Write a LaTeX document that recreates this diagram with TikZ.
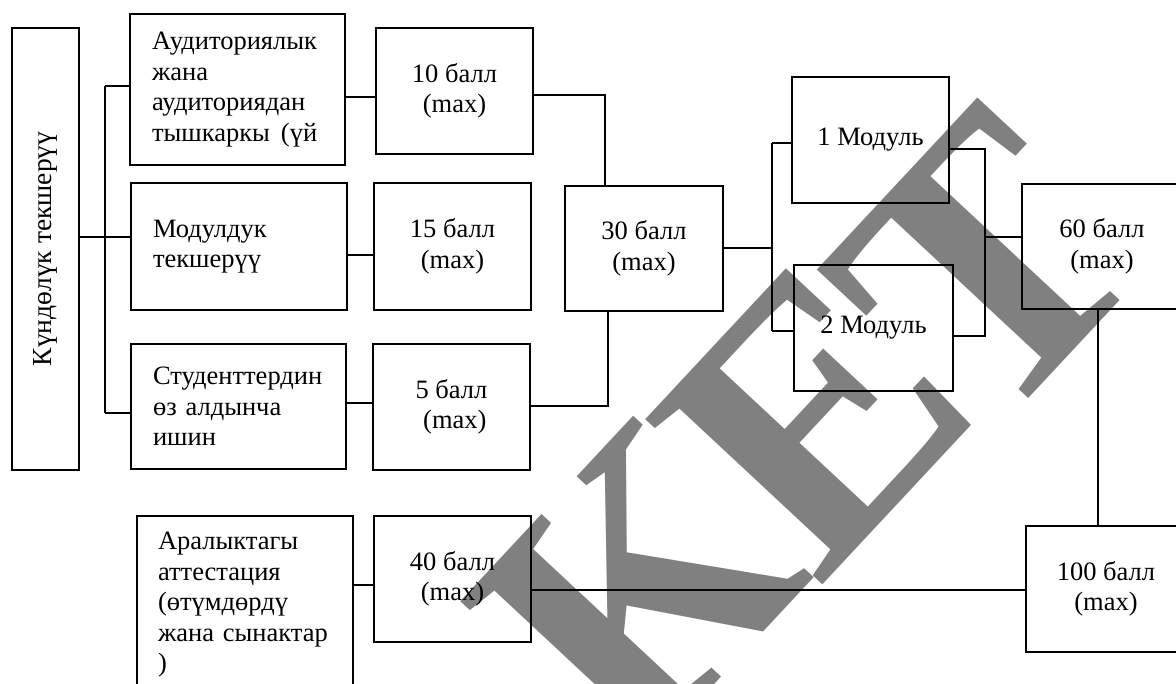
\documentclass[tikz,border=0pt]{standalone}
\usepackage{fontspec}
\setmainfont{Liberation Serif}
\begin{document}
\begin{tikzpicture}[x=1pt,y=-1pt,
  box/.style={draw=black, line width=2.6pt, inner sep=0pt, font=\fontsize{26.5}{30.5}\selectfont},
  lbox/.style={box, align=left, inner xsep=22pt},
  cbox/.style={box, align=center},
  link/.style={line width=1.7pt},
  wm/.style={text=black!50, font=\fontsize{370}{370}\selectfont\bfseries, inner sep=0pt, anchor=base west, rotate=47}]
\useasboundingbox (0,0) rectangle (1176,684);
% watermark
\node[wm] (wK) at (633,772) {К};
\node[wm] (wE) at (818,590) {Е};
\node[wm] (wT) at (990,440) {Т};
% boxes
\node[box, rotate=90, minimum width=442pt, minimum height=67pt, font=\fontsize{27.5}{30}\selectfont] (L) at (45.5,249) {Күндөлүк текшерүү};
\node[lbox, text width=171pt, minimum height=151pt] (A) at (237.5,89.5) {Аудиториялык\\жана\\аудиториядан\\тышкаркы\hspace{11pt}(үй};
\node[lbox, text width=172pt, minimum height=127pt] (B) at (239,246.5) {Модулдук\\текшерүү};
\node[lbox, text width=171pt, minimum height=125pt] (C) at (238.5,406.5) {Студенттердин\\өз алдынча\\ишин};
\node[lbox, inner xsep=21pt, text width=174pt, minimum height=178pt] (R) at (245,605) {Аралыктагы\\аттестация\\(өтүмдөрдү\\жана сынактар\\)};
\node[cbox, minimum width=157pt, minimum height=126pt] (b10) at (454.5,91) {10 балл\\(max)};
\node[cbox, minimum width=157pt, minimum height=127pt] (b15) at (452.5,246.5) {15 балл\\(max)};
\node[cbox, minimum width=157pt, minimum height=126pt] (b5) at (451.5,407) {5 балл\\\ (max)};
\node[cbox, minimum width=157pt, minimum height=126pt] (b40) at (452.5,579) {40 балл\\(max)};
\node[cbox, minimum width=158pt, minimum height=125pt] (b30) at (644,248.5) {30 балл\\(max)};
\node[cbox, minimum width=157pt, minimum height=126pt] (m1) at (870.5,140) {1 Модуль};
\node[cbox, minimum width=159pt, minimum height=126pt] (m2) at (873.5,328) {2 Модуль};
\node[cbox, minimum width=160pt, minimum height=125pt] (b60) at (1102,246.5) {60 балл\\(max)};
\node[cbox, minimum width=160pt, minimum height=126pt] (b100) at (1106,589) {100 балл\\(max)};
% connectors
\coordinate (jL) at (105,237);
\coordinate (jA) at (105,86);
\coordinate (jC) at (105,413);
\draw[link] (jL -| L.south) -- (jL);
\draw[link] (jA) -- (jC);
\draw[link] (jA) -- (jA -| A.west);
\draw[link] (jL) -- (jL -| B.west);
\draw[link] (jC) -- (jC -| C.west);
\coordinate (kA) at (360,97);
\draw[link] (kA -| A.east) -- (kA -| b10.west);
\coordinate (kB) at (360,255);
\draw[link] (kB -| B.east) -- (kB -| b15.west);
\coordinate (kC) at (360,403);
\draw[link] (kC -| C.east) -- (kC -| b5.west);
\coordinate (t1) at (605,95);
\draw[link] (t1 -| b10.east) -- (t1) -- (t1 |- b30.north);
\coordinate (t2) at (608,406);
\draw[link] (t2 -| b5.east) -- (t2) -- (t2 |- b30.south);
\coordinate (jM) at (772,248);
\coordinate (jM1) at (772,143);
\coordinate (jM2) at (772,331);
\draw[link] (b30.east |- jM) -- (jM);
\draw[link] (jM1) -- (jM2);
\draw[link] (jM1) -- (jM1 -| m1.west);
\draw[link] (jM2) -- (jM2 -| m2.west);
\coordinate (jR1) at (985,149);
\coordinate (jR2) at (985,336);
\coordinate (jR) at (985,237);
\draw[link] (jR1 -| m1.east) -- (jR1) -- (jR2) -- (jR2 -| m2.east);
\draw[link] (jR) -- (jR -| b60.west);
\coordinate (v) at (1098,400);
\draw[link] (v |- b60.south) -- (v |- b100.north);
\coordinate (kR) at (360,585);
\draw[link] (kR -| R.east) -- (kR -| b40.west);
\coordinate (kF) at (800,590);
\draw[link] (kF -| b40.east) -- (kF -| b100.west);
\end{tikzpicture}
\end{document}
